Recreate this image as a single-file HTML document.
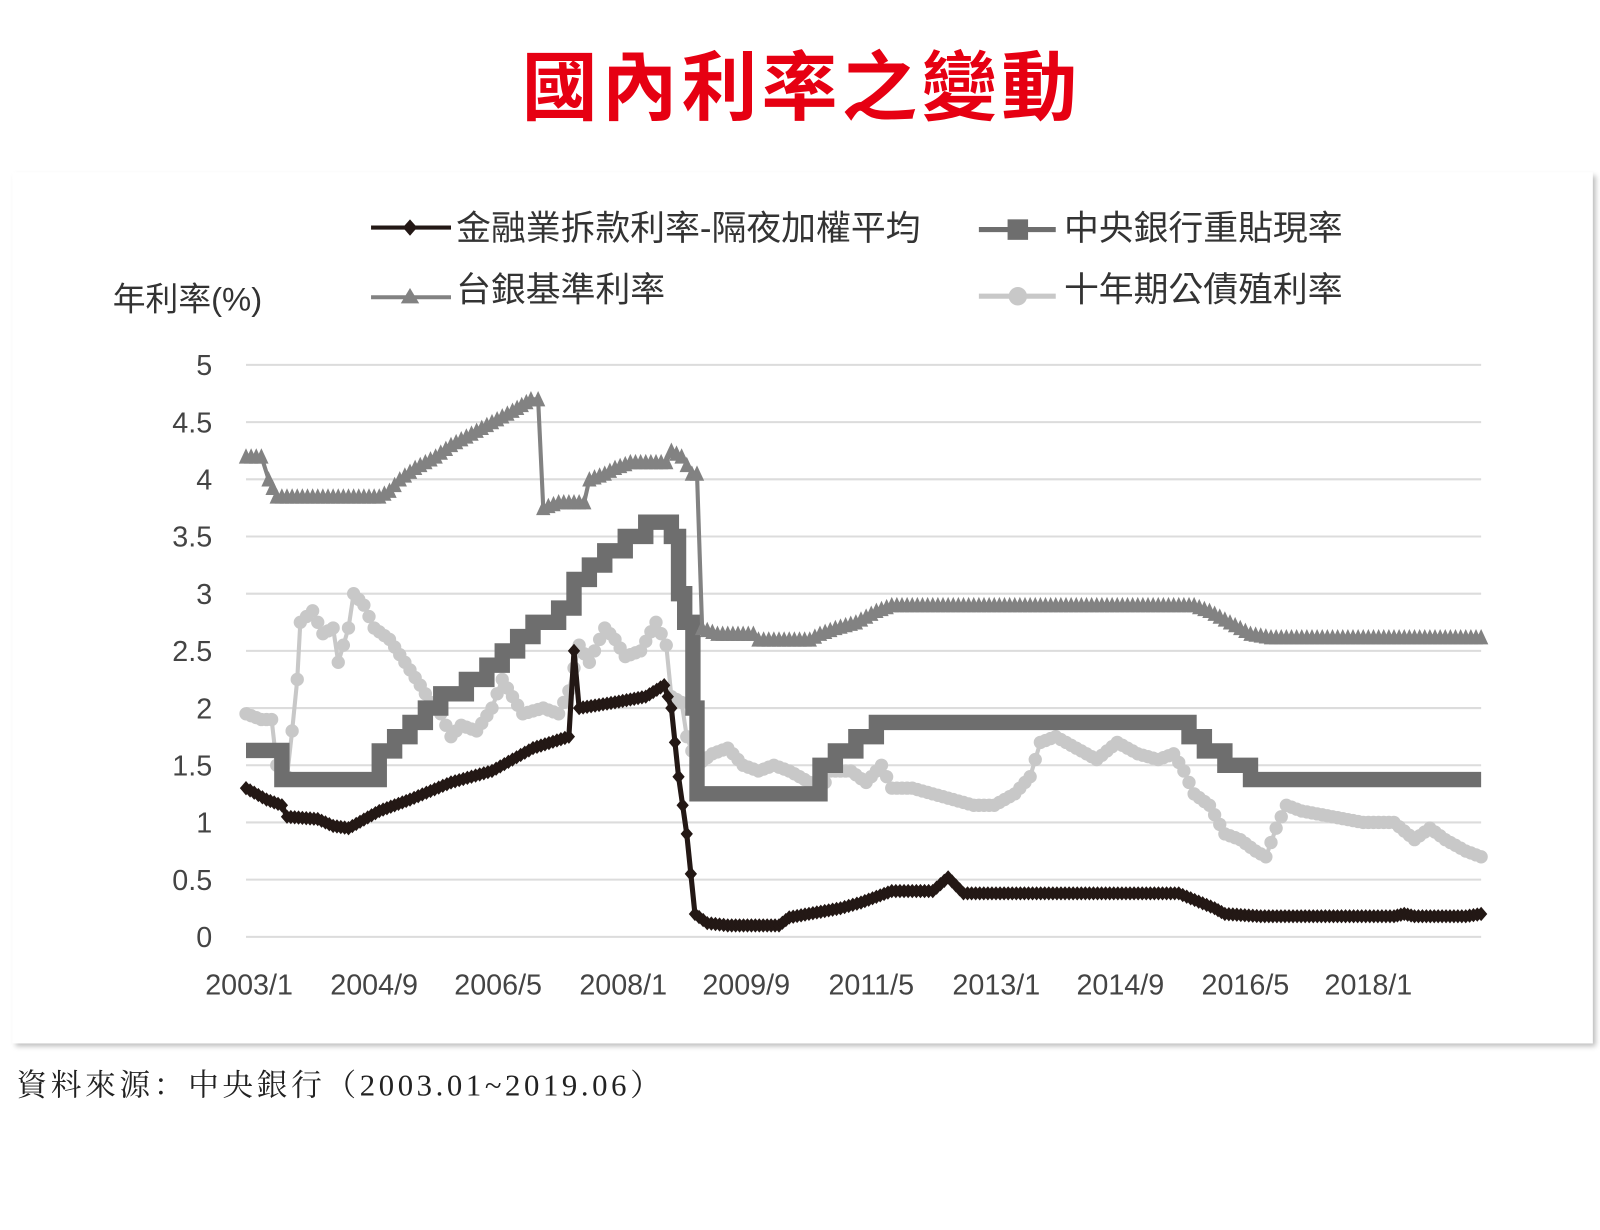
<!DOCTYPE html>
<html><head><meta charset="utf-8"><style>
html,body{margin:0;padding:0;background:#fff;}
body{width:1600px;height:1200px;position:relative;overflow:hidden;}
#w{position:absolute;left:0;top:0;width:1600px;height:1200px;transform:scale(1.025);transform-origin:0 0;}
.title{position:absolute;left:16px;width:1532px;top:26px;text-align:center;color:#e60012;font:bold 74px "Liberation Sans","Noto Sans CJK TC",sans-serif;letter-spacing:4px;}
.box{position:absolute;left:12px;top:168px;width:1542px;height:850px;background:#fff;box-shadow:3px 3px 5px #bbb;}
.src{position:absolute;left:16px;top:1034px;font:30px "Liberation Serif","Noto Serif CJK SC",serif;color:#222;letter-spacing:3.5px;}
svg{position:absolute;left:0;top:0;}
</style></head><body><div id="w">
<div class="title">國內利率之變動</div>
<div class="box"></div>
<svg id="s" width="1600" height="1200" font-family="Liberation Sans, Noto Sans CJK TC, sans-serif"></svg>
<div class="src">資料來源：中央銀行（2003.01~2019.06）</div>
</div>
<script>
const s=document.getElementById('s');let h='';
const Y=v=>914-v*111.6;
for(let i=0;i<=10;i++){const v=i*0.5,y=Y(v);h+=`<line x1="240" x2="1445" y1="${y}" y2="${y}" stroke="#dcdcdc" stroke-width="2"/>`;
h+=`<text x="207" y="${y+10}" text-anchor="end" font-size="28" fill="#444">${v}</text>`;}
const xl=[['2003/1',243],['2004/9',365],['2006/5',486],['2008/1',608],['2009/9',728],['2011/5',850],['2013/1',972],['2014/9',1093],['2016/5',1215],['2018/1',1335]];
xl.forEach(([t,x])=>h+=`<text x="${x}" y="970" text-anchor="middle" font-size="28" fill="#444">${t}</text>`);
function interp(p,step){let out=[];for(let i=0;i<p.length-1;i++){const[a,b]=p[i],[c,d]=p[i+1];const n=Math.max(1,Math.round((c-a)/step));for(let k=0;k<n;k++)out.push([a+(c-a)*k/n,b+(d-b)*k/n]);}out.push(p[p.length-1]);return out;}
function stepify(p){let o=[];p.forEach((q,i)=>{if(i>0)o.push([q[0],p[i-1][1]]);o.push(q);});return o;}
const pts=p=>p.map(q=>q[0].toFixed(1)+','+Y(q[1]).toFixed(1)).join(' ');
const ten=[[240,1.95],[255,1.9],[265,1.9],[270,1.5],[280,1.4],[285,1.8],[290,2.25],[293,2.75],[305,2.85],[315,2.65],[325,2.7],[330,2.4],[340,2.7],[345,3.0],[355,2.9],[365,2.7],[380,2.6],[395,2.4],[410,2.2],[420,2.05],[430,1.95],[440,1.75],[450,1.85],[465,1.8],[480,2.0],[490,2.25],[500,2.1],[510,1.95],[530,2.0],[545,1.95],[555,2.15],[565,2.55],[575,2.4],[590,2.7],[600,2.6],[610,2.45],[625,2.5],[640,2.75],[650,2.55],[655,2.1],[665,2.05],[670,1.75],[680,1.5],[695,1.6],[710,1.65],[725,1.5],[740,1.45],[755,1.5],[770,1.45],[790,1.35],[800,1.25],[810,1.45],[830,1.45],[845,1.35],[860,1.5],[870,1.3],[890,1.3],[910,1.25],[930,1.2],[950,1.15],[970,1.15],[990,1.25],[1005,1.4],[1015,1.7],[1030,1.75],[1050,1.65],[1070,1.55],[1090,1.7],[1110,1.6],[1130,1.55],[1145,1.6],[1155,1.45],[1165,1.25],[1180,1.15],[1195,0.9],[1210,0.85],[1225,0.75],[1235,0.7],[1245,0.95],[1255,1.15],[1270,1.1],[1300,1.05],[1330,1.0],[1360,1.0],[1380,0.85],[1395,0.95],[1410,0.85],[1430,0.75],[1445,0.7]];
h+=`<polyline points="${pts(ten)}" fill="none" stroke="#c8c8c8" stroke-width="4"/>`;
interp(ten,5).forEach(q=>h+=`<circle cx="${q[0]}" cy="${Y(q[1])}" r="6.5" fill="#c8c8c8"/>`);
const dr=[[240,1.63],[275,1.375],[370,1.625],[385,1.75],[400,1.875],[415,2.0],[430,2.125],[455,2.25],[475,2.375],[490,2.5],[505,2.625],[520,2.75],[545,2.875],[560,3.125],[575,3.25],[590,3.375],[610,3.5],[630,3.625],[655,3.5],[662,3.0],[668,2.75],[676,2.0],[680,1.25],[800,1.5],[815,1.625],[835,1.75],[855,1.875],[1160,1.75],[1175,1.625],[1195,1.5],[1220,1.375],[1445,1.375]];
h+=`<polyline points="${pts(stepify(dr))}" fill="none" stroke="#6e6e6e" stroke-width="15"/>`;
const br=[[240,4.2],[255,4.2],[262,4.0],[270,3.85],[370,3.85],[380,3.9],[390,4.0],[405,4.1],[425,4.2],[440,4.3],[460,4.4],[480,4.5],[500,4.6],[518,4.7],[525,4.7],[530,3.75],[545,3.8],[570,3.8],[575,4.0],[590,4.05],[600,4.1],[615,4.15],[650,4.15],[655,4.25],[665,4.2],[675,4.05],[680,4.05],[685,2.7],[700,2.65],[735,2.65],[740,2.6],[790,2.6],[800,2.65],[815,2.7],[835,2.75],[855,2.85],[870,2.9],[1165,2.9],[1180,2.85],[1200,2.75],[1220,2.65],[1240,2.62],[1445,2.62]];
h+=`<polyline points="${pts(br)}" fill="none" stroke="#828282" stroke-width="4"/>`;
interp(br,5).forEach(q=>{const x=q[0],y=Y(q[1]);h+=`<polygon points="${x-7},${y+7} ${x+7},${y+7} ${x},${y-8}" fill="#828282"/>`;});
const on=[[240,1.3],[260,1.2],[275,1.15],[280,1.05],[310,1.03],[325,0.97],[340,0.95],[370,1.1],[400,1.2],[440,1.35],[480,1.45],[520,1.65],[555,1.75],[560,2.5],[565,2.0],[600,2.05],[630,2.1],[648,2.2],[655,2.0],[662,1.4],[670,0.9],[678,0.2],[690,0.12],[710,0.1],[760,0.1],[770,0.17],[820,0.25],[840,0.3],[870,0.4],[910,0.4],[925,0.52],[940,0.38],[1150,0.38],[1185,0.25],[1195,0.2],[1230,0.18],[1360,0.18],[1370,0.2],[1380,0.18],[1430,0.18],[1445,0.2]];
h+=`<polyline points="${pts(on)}" fill="none" stroke="#231815" stroke-width="5"/>`;
interp(on,4).forEach(q=>{const x=q[0],y=Y(q[1]);h+=`<polygon points="${x-6},${y} ${x},${y-7} ${x+6},${y} ${x},${y+7}" fill="#231815"/>`;});
const lt='font-size="34" fill="#333"';
h+=`<line x1="362" x2="440" y1="222" y2="222" stroke="#231815" stroke-width="4"/><polygon points="393,222 400,214 407,222 400,230" fill="#231815"/>`;
h+=`<text x="445" y="234" ${lt}>金融業拆款利率-隔夜加權平均</text>`;
h+=`<line x1="955" x2="1030" y1="224" y2="224" stroke="#6e6e6e" stroke-width="5"/><rect x="983" y="214" width="20" height="20" fill="#6e6e6e"/>`;
h+=`<text x="1038" y="234" ${lt}>中央銀行重貼現率</text>`;
h+=`<line x1="362" x2="440" y1="290" y2="290" stroke="#828282" stroke-width="4"/><polygon points="391,296 409,296 400,281" fill="#828282"/>`;
h+=`<text x="445" y="294" ${lt}>台銀基準利率</text>`;
h+=`<line x1="955" x2="1030" y1="289" y2="289" stroke="#c8c8c8" stroke-width="5"/><circle cx="993" cy="289" r="9" fill="#c8c8c8"/>`;
h+=`<text x="1038" y="294" ${lt}>十年期公債殖利率</text>`;
h+=`<text x="110" y="303" font-size="32" fill="#333">年利率(%)</text>`;
s.innerHTML=h;
</script>
</body></html>
